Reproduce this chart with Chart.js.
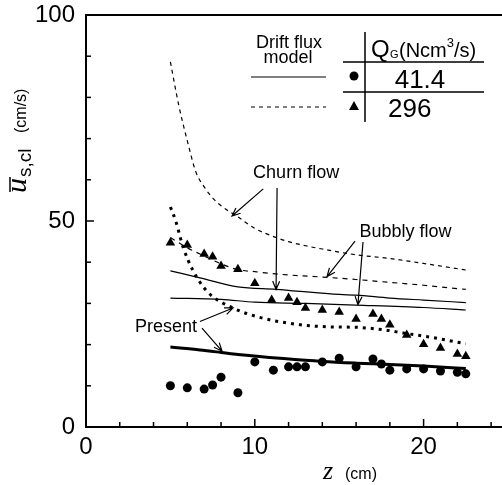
<!DOCTYPE html>
<html>
<head>
<meta charset="utf-8">
<script src="https://cdn.jsdelivr.net/npm/chart.js@4/dist/chart.umd.min.js"></script>
<style>
  html, body { margin: 0; padding: 0; background: #fff; overflow: hidden; }
</style>
</head>
<body>
<canvas id="grafico" width="520" height="485"></canvas>
<script>
// ===============================
// DATOS
// ===============================

// Puntos medidos, QG = 41.4 Ncm3/s (circulos)
const zCirculos = [5.0, 6.0, 7.0, 7.5, 8.0, 9.0, 10.0, 11.1, 12.0, 12.5, 13.0, 14.0, 15.0, 16.0, 17.0, 17.5, 18.0, 19.0, 20.0, 21.0, 22.0, 22.5];
const uCirculos = [10.0, 9.5, 9.2, 10.2, 12.1, 8.3, 15.8, 13.8, 14.6, 14.6, 14.6, 15.8, 16.7, 14.6, 16.5, 15.3, 13.8, 14.1, 14.1, 13.6, 13.3, 12.9];

// Puntos medidos, QG = 296 Ncm3/s (triangulos)
const zTriangulos = [5.0, 6.0, 7.0, 7.5, 8.0, 9.0, 10.0, 11.0, 12.0, 12.5, 13.0, 14.0, 15.0, 16.0, 17.0, 17.5, 18.0, 19.0, 20.0, 21.0, 22.0, 22.5];
const uTriangulos = [44.7, 44.2, 42.0, 41.3, 39.1, 38.3, 34.9, 30.8, 31.3, 30.3, 28.9, 28.4, 27.9, 26.2, 27.4, 26.2, 24.8, 22.3, 20.1, 19.2, 17.7, 17.2];

// Modelo drift flux, churn flow, QG = 296 (discontinua)
const zChurn296 = [5, 5.5, 6, 6.5, 7, 7.5, 8, 9, 10, 11, 12, 13, 14, 16, 18, 20, 22.5];
const uChurn296 = [88.6, 78, 69.5, 62, 58.3, 55.6, 53.7, 51.0, 48.2, 46.4, 45.0, 44.0, 43.2, 41.8, 40.9, 39.7, 38.1];

// Modelo drift flux, bubbly flow, QG = 296 (discontinua)
const zBubbly296 = [5, 6, 7, 8, 9, 10, 12, 14, 16, 18, 20, 22.5];
const uBubbly296 = [46.0, 43.5, 41.5, 39.6, 38.2, 37.7, 36.9, 36.4, 35.8, 35.1, 34.4, 33.4];

// Modelo drift flux, churn flow, QG = 41.4 (continua)
const zChurn41 = [5, 6.75, 9, 11.25, 14.5, 16, 18, 20, 22.5];
const uChurn41 = [37.9, 36.2, 34.0, 33.4, 32.3, 32.0, 31.3, 30.8, 30.2];

// Modelo drift flux, bubbly flow, QG = 41.4 (continua)
const zBubbly41 = [5, 8, 10, 13, 16, 20, 22.5];
const uBubbly41 = [31.3, 31.0, 30.3, 30.0, 29.6, 29.0, 28.4];

// Modelo presente, QG = 296 (punteada gruesa)
const zPresente296 = [5, 5.3, 5.75, 6.3, 7.2, 8.7, 10.3, 12.7, 14.5, 16, 17.8, 18.8, 20.4, 22.5];
const uPresente296 = [53.4, 50.2, 43.7, 38.3, 32.8, 28.9, 26.6, 24.8, 24.3, 24.2, 23.5, 22.8, 21.8, 20.2];

// Modelo presente, QG = 41.4 (continua gruesa)
const zPresente41 = [5, 6.75, 8, 9, 11.7, 14, 16, 18, 20, 22.5];
const uPresente41 = [19.4, 18.7, 18.1, 17.6, 16.6, 15.9, 15.5, 15.2, 14.8, 14.2];

// Ticks
const ticksX = [0, 10, 20];
const ticksY = [0, 50, 100];

// ===============================
// UTILIDADES
// ===============================

function puntos(xs, ys) {
  return xs.map(function (x, i) {
    return { x: x, y: ys[i] };
  });
}

function linea(xs, ys, ancho, guion) {
  return {
    type: "line",
    data: puntos(xs, ys),
    borderColor: "#000",
    borderWidth: ancho,
    borderDash: guion,
    pointRadius: 0,
    fill: false,
    cubicInterpolationMode: "monotone"
  };
}

const FUENTE = '"Liberation Sans", Arial, sans-serif';
const SERIF = '"Liberation Serif", "Times New Roman", serif';

// ===============================
// PLUGIN: marco, ticks, textos
// ===============================

const decoracion = {
  id: "decoracion",
  afterDraw: function (chart) {
    const ctx = chart.ctx;
    const area = chart.chartArea;
    const sx = chart.scales.x;
    const sy = chart.scales.y;
    const px = function (v) { return sx.getPixelForValue(v); };
    const py = function (v) { return sy.getPixelForValue(v); };

    ctx.save();
    ctx.strokeStyle = "#000";
    ctx.fillStyle = "#000";

    // marco superior y derecho
    ctx.lineWidth = 2;
    ctx.beginPath();
    ctx.moveTo(area.left, area.top);
    ctx.lineTo(area.right, area.top);
    ctx.lineTo(area.right, area.bottom);
    ctx.stroke();

    // ticks hacia dentro
    ctx.lineWidth = 1.5;
    for (let v = 2; v <= 24; v += 2) {
      const largo = v % 10 === 0 ? 8 : 5;
      ctx.beginPath();
      ctx.moveTo(px(v), area.bottom);
      ctx.lineTo(px(v), area.bottom - largo);
      ctx.stroke();
    }
    for (let v = 10; v <= 90; v += 10) {
      const largo = v % 50 === 0 ? 8 : 5;
      ctx.beginPath();
      ctx.moveTo(area.left, py(v));
      ctx.lineTo(area.left + largo, py(v));
      ctx.stroke();
    }

    // flechas de anotacion
    function flecha(x1, y1, x2, y2) {
      const a = { x: px(x1), y: py(y1) };
      const b = { x: px(x2), y: py(y2) };
      const ang = Math.atan2(b.y - a.y, b.x - a.x);
      ctx.lineWidth = 1.2;
      ctx.beginPath();
      ctx.moveTo(a.x, a.y);
      ctx.lineTo(b.x, b.y);
      ctx.moveTo(b.x - 9 * Math.cos(ang - 0.4), b.y - 9 * Math.sin(ang - 0.4));
      ctx.lineTo(b.x, b.y);
      ctx.lineTo(b.x - 9 * Math.cos(ang + 0.4), b.y - 9 * Math.sin(ang + 0.4));
      ctx.stroke();
    }

    ctx.font = "18px " + FUENTE;
    ctx.textBaseline = "alphabetic";
    ctx.textAlign = "left";
    ctx.fillText("Churn flow", px(9.9), py(60.4));
    flecha(10.5, 57.8, 8.65, 51.2);
    flecha(11.32, 58.0, 11.26, 33.4);

    ctx.fillText("Bubbly flow", px(16.2), py(46.1));
    flecha(15.94, 45.1, 14.28, 36.5);
    flecha(16.41, 44.9, 16.11, 29.7);

    ctx.fillText("Present", px(2.9), py(23.1));
    flecha(6.75, 25.6, 8.71, 28.9);
    flecha(6.87, 24.0, 8.06, 18.4);

    // tabla de leyenda
    ctx.lineWidth = 1.2;
    ctx.beginPath();
    ctx.moveTo(251, 77); ctx.lineTo(326, 77);
    ctx.stroke();
    ctx.setLineDash([4, 4]);
    ctx.beginPath();
    ctx.moveTo(251, 107); ctx.lineTo(326, 107);
    ctx.stroke();
    ctx.setLineDash([]);
    ctx.lineWidth = 1.5;
    ctx.beginPath();
    ctx.moveTo(365, 32); ctx.lineTo(365, 122);
    ctx.moveTo(343, 62); ctx.lineTo(484, 62);
    ctx.moveTo(343, 92); ctx.lineTo(484, 92);
    ctx.stroke();

    ctx.font = "18px " + FUENTE;
    ctx.textAlign = "center";
    ctx.fillText("Drift flux", 289, 48);
    ctx.fillText("model", 288, 63);

    ctx.textAlign = "left";
    ctx.font = "24px " + FUENTE;
    ctx.fillText("Q", 371, 57);
    ctx.font = "11px " + FUENTE;
    ctx.fillText("G", 390, 58);
    ctx.font = "20px " + FUENTE;
    ctx.fillText("(Ncm", 399, 57);
    let xq = 399 + ctx.measureText("(Ncm").width;
    ctx.font = "13px " + FUENTE;
    ctx.fillText("3", xq, 47);
    xq += ctx.measureText("3").width;
    ctx.font = "20px " + FUENTE;
    ctx.fillText("/s)", xq, 57);

    ctx.font = "26px " + FUENTE;
    ctx.textAlign = "center";
    ctx.fillText("41.4", 420, 88);
    ctx.textAlign = "left";
    ctx.fillText("296", 388, 117);

    ctx.beginPath();
    ctx.arc(354, 76, 4.5, 0, Math.PI * 2);
    ctx.fill();
    ctx.beginPath();
    ctx.moveTo(354, 101); ctx.lineTo(359, 110); ctx.lineTo(349, 110);
    ctx.closePath();
    ctx.fill();

    // titulo eje X
    ctx.font = "italic 26px " + SERIF;
    ctx.fillText("z", 323, 479);
    ctx.font = "16px " + FUENTE;
    ctx.fillText("(cm)", 345, 479);

    // titulo eje Y (rotado)
    ctx.translate(26, 193);
    ctx.rotate(-Math.PI / 2);
    ctx.font = "italic 30px " + SERIF;
    ctx.fillText("u", 0, 0);
    const wu = ctx.measureText("u").width;
    ctx.lineWidth = 1.5;
    ctx.beginPath();
    ctx.moveTo(1, -16); ctx.lineTo(wu + 1, -16);
    ctx.stroke();
    ctx.font = "19px " + FUENTE;
    ctx.fillText("s,cl", wu + 1, 5);
    ctx.font = "16px " + FUENTE;
    ctx.fillText("(cm/s)", 60, 0);

    ctx.restore();
  }
};

// ===============================
// GRAFICA
// ===============================

const ctx = document.getElementById("grafico").getContext("2d");

const grafica = new Chart(ctx, {
  type: "scatter",
  data: {
    datasets: [
      {
        data: puntos(zCirculos, uCirculos),
        pointStyle: "circle",
        pointRadius: 4.5,
        backgroundColor: "#000",
        borderColor: "#000",
        borderWidth: 0
      },
      {
        data: puntos(zTriangulos, uTriangulos),
        pointStyle: "triangle",
        pointRadius: 5.5,
        backgroundColor: "#000",
        borderColor: "#000",
        borderWidth: 0
      },
      linea(zChurn296, uChurn296, 1.2, [4, 4]),
      linea(zBubbly296, uBubbly296, 1.2, [5, 5]),
      linea(zChurn41, uChurn41, 1.2, []),
      linea(zBubbly41, uBubbly41, 1.2, []),
      linea(zPresente296, uPresente296, 3, [3, 5]),
      linea(zPresente41, uPresente41, 3, [])
    ]
  },
  options: {
    responsive: false,
    animation: false,
    layout: { padding: { left: 0, top: 15, right: 12, bottom: 0 } },
    plugins: {
      legend: { display: false },
      tooltip: { enabled: false }
    },
    scales: {
      x: {
        type: "linear",
        min: 0,
        max: 25,
        afterBuildTicks: function (escala) {
          escala.ticks = ticksX.map(function (v) { return { value: v }; });
        },
        afterFit: function (escala) {
          escala.height = 58;
          escala.paddingLeft = 0;
          escala.paddingRight = 0;
        },
        grid: { display: false, drawTicks: false, tickLength: 0 },
        border: { display: true, color: "#000", width: 2 },
        ticks: {
          color: "#000",
          padding: 6,
          maxRotation: 0,
          font: { family: FUENTE, size: 24 }
        }
      },
      y: {
        type: "linear",
        min: 0,
        max: 100,
        afterBuildTicks: function (escala) {
          escala.ticks = ticksY.map(function (v) { return { value: v }; });
        },
        afterFit: function (escala) {
          escala.width = 86;
          escala.paddingTop = 0;
          escala.paddingBottom = 0;
        },
        grid: { display: false, drawTicks: false, tickLength: 0 },
        border: { display: true, color: "#000", width: 2 },
        ticks: {
          color: "#000",
          padding: 11,
          font: { family: FUENTE, size: 24 }
        }
      }
    }
  },
  plugins: [decoracion]
});
</script>
</body>
</html>
